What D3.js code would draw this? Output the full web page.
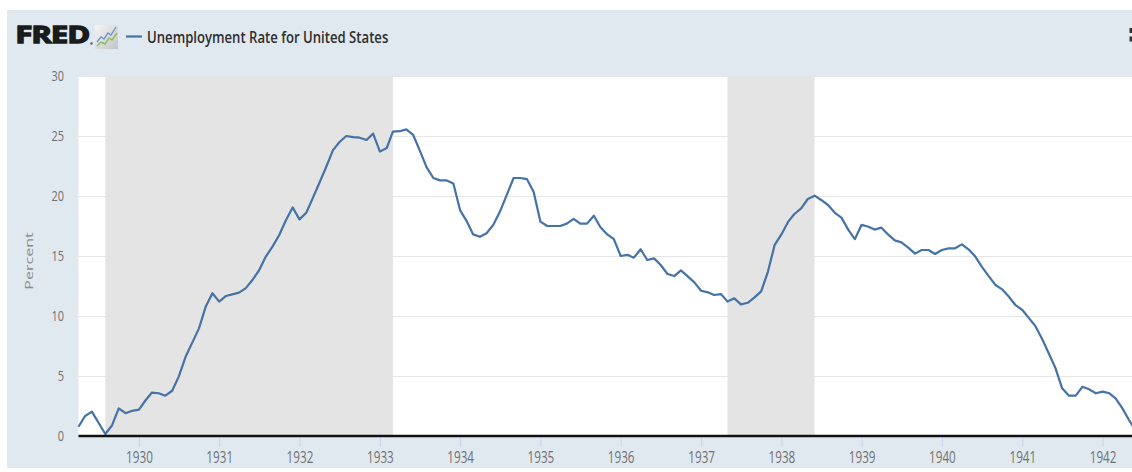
<!DOCTYPE html>
<html>
<head>
<meta charset="utf-8">
<script src="https://cdn.jsdelivr.net/npm/d3@7"></script>
<style>
  body { margin: 0; background: #fff; }
  svg { display: block; }
  text { font-family: "Open Sans", sans-serif; }
</style>
</head>
<body>
<svg id="chart"></svg>
<script>
// monthly unemployment rate, starts April 1929
const rateStart = new Date(1929, 3, 1);
const rate1929 = [0.77, 1.67, 2.03, 1.1, 0.17, 0.9, 2.3, 1.9, 2.1];
const rate1930 = [2.2, 3.0, 3.62, 3.56, 3.36, 3.77, 4.95, 6.6, 7.8, 8.97, 10.8, 11.9];
const rate1931 = [11.2, 11.67, 11.8, 11.95, 12.3, 13.0, 13.8, 14.95, 15.8, 16.75, 18.0, 19.05];
const rate1932 = [18.05, 18.6, 19.8, 21.1, 22.4, 23.8, 24.5, 25.0, 24.9, 24.86, 24.67, 25.2];
const rate1933 = [23.7, 24.0, 25.36, 25.4, 25.55, 25.1, 23.8, 22.4, 21.5, 21.3, 21.3, 21.05];
const rate1934 = [18.8, 17.86, 16.8, 16.6, 16.9, 17.6, 18.7, 20.1, 21.5, 21.5, 21.4, 20.36];
const rate1935 = [17.86, 17.5, 17.5, 17.5, 17.7, 18.1, 17.7, 17.7, 18.36, 17.4, 16.8, 16.4];
const rate1936 = [15.0, 15.1, 14.86, 15.56, 14.67, 14.8, 14.25, 13.5, 13.33, 13.8, 13.3, 12.8];
const rate1937 = [12.1, 11.97, 11.75, 11.83, 11.2, 11.47, 10.97, 11.1, 11.55, 12.05, 13.7, 15.9];
const rate1938 = [16.8, 17.86, 18.5, 18.97, 19.75, 20.03, 19.67, 19.25, 18.6, 18.2, 17.2, 16.4];
const rate1939 = [17.6, 17.44, 17.2, 17.36, 16.8, 16.3, 16.14, 15.7, 15.2, 15.5, 15.5, 15.17];
const rate1940 = [15.5, 15.64, 15.64, 15.97, 15.56, 14.95, 14.1, 13.33, 12.58, 12.22, 11.6, 10.9];
const rate1941 = [10.5, 9.8, 9.17, 8.08, 6.9, 5.64, 3.97, 3.36, 3.36, 4.1, 3.89, 3.56];
const rate1942 = [3.7, 3.56, 3.14, 2.3, 1.33, 0.45];

const yTickValues = [0, 5, 10, 15, 20, 25, 30];
const xTickYears = [1930, 1931, 1932, 1933, 1934, 1935, 1936, 1937, 1938, 1939, 1940, 1941, 1942];
const recessionStarts = ["1929-08-01", "1937-05-01"];
const recessionEnds = ["1933-03-01", "1938-06-01"];
const seriesTitle = "Unemployment Rate for United States";
const yTitle = "Percent";


class FredLineChart {

  constructor(target) {
    this.width = 1132;
    this.height = 472;
    this.svg = d3.select(target).attr("width", this.width).attr("height", this.height);
    this.plotTop = 76;
    this.plotBottom = 436;
    this.squeeze = 0.73;   // the fred fonts come out narrow

    var rates = [].concat(rate1929, rate1930, rate1931, rate1932, rate1933, rate1934, rate1935,
      rate1936, rate1937, rate1938, rate1939, rate1940, rate1941, rate1942);
    var months = d3.timeMonth.range(rateStart, d3.timeMonth.offset(rateStart, rates.length));
    this.data = months.map(function(m, i) { return {date: m, value: rates[i]}; });

    this.x = d3.scaleTime()
      .domain([rateStart, months[months.length - 1]])
      .range([78.5, 1135.8]);
    this.plotLeft = this.x(rateStart);
    this.y = d3.scaleLinear().domain([0, 30]).range([this.plotBottom, this.plotTop]);
  }

  _fitText(sel, width) {
    var w = sel.node().getComputedTextLength();
    var tr = sel.attr("transform");
    sel.attr("transform", tr + " scale(" + (width / w) + ",1)");
  }

  _renderFrame() {
    var self = this;
    self.svg.append("rect")
      .attr("x", 7).attr("y", 10)
      .attr("width", self.width - 7).attr("height", 458)
      .attr("fill", "#e1e9f0");
    self.svg.append("rect")
      .attr("x", self.plotLeft).attr("y", self.plotTop)
      .attr("width", self.width - self.plotLeft).attr("height", self.plotBottom - self.plotTop)
      .attr("fill", "#fff");

    // menu button, cut off at the right edge
    self.svg.append("rect").attr("x", 1129.5).attr("y", 28).attr("width", 3.5).attr("height", 5).attr("fill", "#333");
    self.svg.append("rect").attr("x", 1129.5).attr("y", 36.5).attr("width", 3.5).attr("height", 5).attr("fill", "#333");
  }

  _renderHeader() {
    var self = this;

    var logo = self.svg.append("text")
      .attr("transform", "translate(15.5,43)")
      .attr("font-family", "'Liberation Sans', Arial, sans-serif")
      .attr("font-weight", "bold")
      .attr("font-size", 23.5)
      .attr("fill", "#1b1b1b")
      .attr("stroke", "#1b1b1b")
      .attr("stroke-width", 1.5)
      .style("letter-spacing", "-0.5px")
      .text("FRED");
    self._fitText(logo, 74);
    self.svg.append("circle").attr("cx", 91.5).attr("cy", 43.5).attr("r", 1.3).attr("fill", "#666");

    // little chart icon
    var grad = self.svg.append("defs").append("linearGradient")
      .attr("id", "iconGrad").attr("x1", 0).attr("y1", 0).attr("x2", 1).attr("y2", 1);
    grad.append("stop").attr("offset", "0%").attr("stop-color", "#f6f6f6");
    grad.append("stop").attr("offset", "100%").attr("stop-color", "#c4c4c4");
    self.svg.append("rect")
      .attr("x", 95).attr("y", 25).attr("width", 23).attr("height", 24)
      .attr("fill", "url(#iconGrad)");
    self.svg.append("polyline")
      .attr("points", "97,42 101,37 104,39 108,33 111,35 116,27")
      .attr("fill", "none").attr("stroke", "#6a98cf").attr("stroke-width", 1.4);
    self.svg.append("polyline")
      .attr("points", "97,46 101,42 105,44 109,38 112,40 117,33")
      .attr("fill", "none").attr("stroke", "#8dbd5c").attr("stroke-width", 1.4);

    // legend
    self.svg.append("line")
      .attr("x1", 126).attr("x2", 142).attr("y1", 36.5).attr("y2", 36.5)
      .attr("stroke", "#4572a7").attr("stroke-width", 2.2);
    var title = self.svg.append("text")
      .attr("transform", "translate(147,43)")
      .attr("font-size", 16)
      .attr("font-weight", 600)
      .attr("fill", "#2e2e2e")
      .text(seriesTitle);
    self._fitText(title, 241.5);
  }

  _renderGrid() {
    var self = this;

    self.svg.append("g")
      .attr("transform", "translate(" + self.plotLeft + ",0)")
      .call(d3.axisLeft(self.y)
        .tickValues(yTickValues.filter(function(v) { return v > 0; }))
        .tickSize(-(self.width - self.plotLeft))
        .tickFormat(""))
      .call(function(g) { g.select(".domain").remove(); })
      .selectAll("line")
        .attr("stroke", "#e6e6e6");

    self.svg.append("g")
      .selectAll("rect")
      .data(recessionStarts)
      .enter().append("rect")
        .attr("x", function(d) { return self.x(new Date(d + "T00:00")); })
        .attr("width", function(d, i) {
          return self.x(new Date(recessionEnds[i] + "T00:00")) - self.x(new Date(d + "T00:00"));
        })
        .attr("y", self.plotTop)
        .attr("height", self.plotBottom - self.plotTop)
        .attr("fill", "#e4e4e4");
  }

  _renderAxes() {
    var self = this;

    var yAxis = self.svg.append("g")
      .attr("transform", "translate(64,0)")
      .call(d3.axisLeft(self.y).tickValues(yTickValues).tickSize(0).tickPadding(0));
    yAxis.select(".domain").remove();
    yAxis.selectAll("text")
      .attr("font-family", null)
      .attr("font-size", 15)
      .attr("fill", "#707070")
      .attr("transform", "scale(" + self.squeeze + ",1)");

    var xAxis = self.svg.append("g")
      .attr("transform", "translate(0," + self.plotBottom + ")")
      .call(d3.axisBottom(self.x)
        .tickValues(xTickYears.map(function(yr) { return new Date(yr, 0, 1); }))
        .tickFormat(d3.timeFormat("%Y"))
        .tickSizeInner(11)
        .tickSizeOuter(0)
        .tickPadding(5));
    xAxis.select(".domain").remove();
    xAxis.selectAll(".tick line").attr("stroke", "#c9d6e8");
    xAxis.selectAll("text")
      .attr("font-family", null)
      .attr("font-size", 16)
      .attr("fill", "#707070")
      .attr("transform", "scale(" + self.squeeze + ",1)");

    self.svg.append("line")
      .attr("x1", self.plotLeft).attr("x2", self.width)
      .attr("y1", self.plotBottom).attr("y2", self.plotBottom)
      .attr("stroke", "#111").attr("stroke-width", 2.5);

    self.svg.append("text")
      .attr("transform", "translate(33,261) scale(" + self.squeeze + ",1) rotate(-90)")
      .attr("text-anchor", "middle")
      .attr("font-size", 16)
      .attr("fill", "#8a8a8a")
      .text(yTitle);
  }

  _renderLine() {
    var self = this;
    var line = d3.line()
      .x(function(d) { return self.x(d.date); })
      .y(function(d) { return self.y(d.value); });

    self.svg.append("path")
      .datum(self.data)
      .attr("d", line)
      .attr("fill", "none")
      .attr("stroke", "#4572a7")
      .attr("stroke-width", 2.2)
      .attr("stroke-linejoin", "round");
  }

  render() {
    var self = this;
    self._renderFrame();
    self._renderHeader();
    self._renderGrid();
    self._renderLine();
    self._renderAxes();
  }
}

new FredLineChart("#chart").render();
</script>
</body>
</html>
